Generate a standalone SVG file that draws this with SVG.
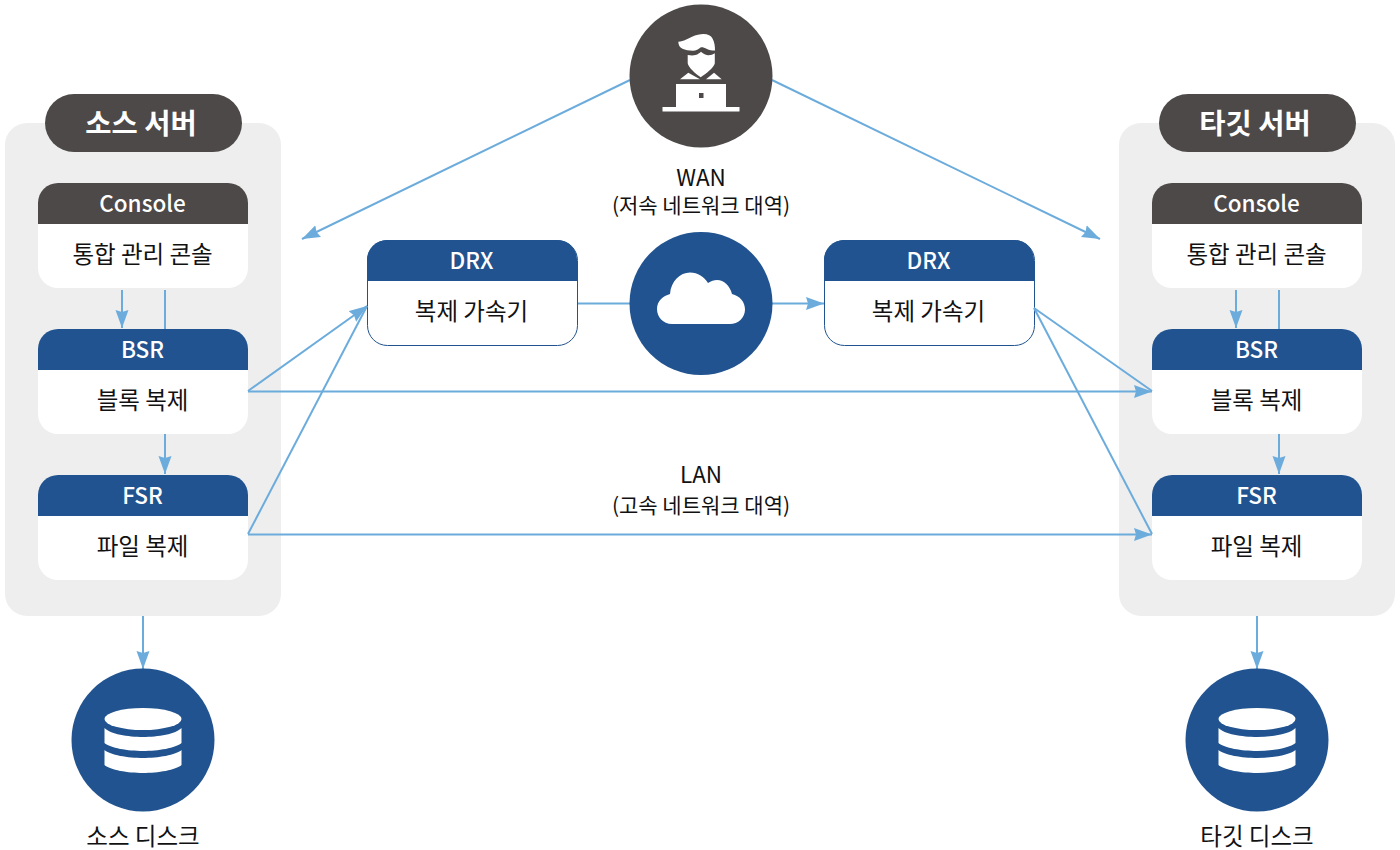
<svg xmlns="http://www.w3.org/2000/svg" xmlns:xlink="http://www.w3.org/1999/xlink" width="1400" height="850" viewBox="0 0 1400 850">
<style>
text{font-family:"Noto Sans CJK KR","Noto Sans",sans-serif;text-anchor:middle}
.panel{fill:#eeeeee}
.pill{fill:#4d4948}
.pilltx{font-size:28.5px;font-weight:700;fill:#fff}
.card{fill:#fff}
.hd{font-size:22.500px;font-weight:500;fill:#fff}
.bd{font-size:23.500px;fill:#111}
.sm{font-size:21px;fill:#111}
.md{font-size:22.500px;fill:#111}
.blue{fill:#20538f}
.dark{fill:#4d4948}
.wh{fill:#fff}
.ln{fill:none;stroke:#6cacdc;stroke-width:2}
.arr{marker-end:url(#ah)}
</style>
<defs>
<marker id="ah" markerUnits="userSpaceOnUse" markerWidth="18" markerHeight="14" refX="18" refY="7" orient="auto"><path d="M0 0.500L18 7L0 13.500L2 7Z" fill="#6cacdc"/></marker>
<path id="hdr" d="M0 41V20A20 20 0 0 1 20 0H190A20 20 0 0 1 210 20V41Z"/>
<g id="db"><ellipse cx="0" cy="-21" rx="38.5" ry="11" class="wh"/><path class="wh" d="M-38.5 -12C-33 -6 -15 -3 0 -3C15 -3 33 -6 38.5 -12V3C33 8 15 11 0 11C-15 11 -33 8 -38.5 3Z"/><path class="wh" d="M-38.5 10C-33 15 -15 18 0 18C15 18 33 15 38.5 10V25C33 30 15 33 0 33C-15 33 -33 30 -38.5 25Z"/></g>
</defs>

<g id="panel-source"><rect class="panel" x="5" y="123" width="276" height="493" rx="22"/></g>
<g id="panel-target"><rect class="panel" x="1119" y="123" width="276" height="493" rx="22"/></g>

<g id="source-title"><rect class="pill" x="45" y="94" width="197" height="58" rx="29"/><text class="pilltx" x="141" y="133.500">소스 서버</text></g>
<g id="target-title"><rect class="pill" x="1159" y="94" width="197" height="58" rx="29"/><text class="pilltx" x="1255" y="133.500">타깃 서버</text></g>

<g id="src-console"><rect class="card" x="38" y="183" width="210" height="105" rx="20"/><use href="#hdr" x="38" y="183" class="dark"/><text class="hd" x="142.500" y="212">Console</text><text class="bd" x="142.500" y="263">통합 관리 콘솔</text></g>
<g id="src-bsr"><rect class="card" x="38" y="329" width="210" height="105" rx="20"/><use href="#hdr" x="38" y="329" class="blue"/><text class="hd" x="142.500" y="358">BSR</text><text class="bd" x="142.500" y="409">블록 복제</text></g>
<g id="src-fsr"><rect class="card" x="38" y="475" width="210" height="105" rx="20"/><use href="#hdr" x="38" y="475" class="blue"/><text class="hd" x="142.500" y="504">FSR</text><text class="bd" x="142.500" y="555">파일 복제</text></g>

<g id="tgt-console"><rect class="card" x="1152" y="183" width="210" height="105" rx="20"/><use href="#hdr" x="1152" y="183" class="dark"/><text class="hd" x="1256.500" y="212">Console</text><text class="bd" x="1256.500" y="263">통합 관리 콘솔</text></g>
<g id="tgt-bsr"><rect class="card" x="1152" y="329" width="210" height="105" rx="20"/><use href="#hdr" x="1152" y="329" class="blue"/><text class="hd" x="1256.500" y="358">BSR</text><text class="bd" x="1256.500" y="409">블록 복제</text></g>
<g id="tgt-fsr"><rect class="card" x="1152" y="475" width="210" height="105" rx="20"/><use href="#hdr" x="1152" y="475" class="blue"/><text class="hd" x="1256.500" y="504">FSR</text><text class="bd" x="1256.500" y="555">파일 복제</text></g>

<g id="drx-left"><rect x="367.500" y="240.500" width="210" height="105" rx="20" fill="#fff" stroke="#20538f"/><use href="#hdr" x="367" y="240" class="blue"/><text class="hd" x="471.500" y="269">DRX</text><text class="bd" x="471.500" y="320">복제 가속기</text></g>
<g id="drx-right"><rect x="824.500" y="240.500" width="210" height="105" rx="20" fill="#fff" stroke="#20538f"/><use href="#hdr" x="824" y="240" class="blue"/><text class="hd" x="928.500" y="269">DRX</text><text class="bd" x="928.500" y="320">복제 가속기</text></g>

<g id="connectors">
<path class="ln arr" d="M630 80L302 239"/>
<path class="ln arr" d="M772 80L1100 239"/>
<path class="ln arr" d="M122 290V328"/>
<path class="ln" d="M165 290V329"/>
<path class="ln arr" d="M165 434V474"/>
<path class="ln arr" d="M143 616V669"/>
<path class="ln arr" d="M1236 290V328"/>
<path class="ln" d="M1279 290V329"/>
<path class="ln arr" d="M1279 434V474"/>
<path class="ln arr" d="M1257 616V669"/>
<path class="ln arr" d="M248 391L367 306"/>
<path class="ln" d="M248 534L367 306"/>
<path class="ln arr" d="M248 391.500H1152"/>
<path class="ln arr" d="M248 534.500H1152"/>
<path class="ln" d="M578 303.500H630"/>
<path class="ln arr" d="M772 303.500H824"/>
<path class="ln" d="M1034 308L1152 391"/>
<path class="ln" d="M1034 308L1152 534"/>
</g>

<g id="operator"><circle class="dark" cx="701" cy="76" r="71.500"/>
<path class="wh" d="M678.300 41.700C684 41.500 688 38.500 692 36.800C696 35 700 34 703.500 34C708 34 711 35.500 712.500 38.500C714.500 42 715 46 715 50.500C712 50.500 709 50 707 49C704 47.500 702 47 700.500 47.500C698.500 49 696 50.800 693 50.800C689 50.800 685 50 682.500 48.800C679.500 47.300 678.500 45 678.300 41.700Z"/>
<path class="wh" d="M687.700 55C691 55.500 693.500 55.500 695.500 55C698 54.300 699.500 52.800 701 51.700C703 53.500 705 55 708 55.200C710.500 55.300 713 54.500 714.800 53.300V63.300C714 67.500 706 74 700.700 77.300C695.500 74 688.500 67.500 687.700 63.300Z"/>
<path class="wh" d="M680 79.300L688.300 72.700L700 79.300ZM706 79.300L714 72.700L721.700 79.300Z"/>
<rect class="wh" x="676" y="84" width="50" height="23"/><rect class="wh" x="662.500" y="107" width="77" height="4.500"/><rect class="dark" x="699" y="93" width="4.500" height="5"/></g>

<g id="wan"><circle class="blue" cx="701" cy="303.500" r="71.500"/>
<path class="wh" d="M672 324C663 324 657 317 657 309C657 301 663 296 670 294C671 281 680 272.500 690 272.500C698 272.500 704 277 708 283C711 281 714 280 717 280C724 280 730 286 732 294C740 296 745 302 745 309.500C745 318 738 324 730 324Z"/></g>

<g id="source-disk"><circle class="blue" cx="143" cy="740" r="71.500"/><use href="#db" x="143" y="740"/><text class="bd" x="143" y="845">소스 디스크</text></g>
<g id="target-disk"><circle class="blue" cx="1257" cy="740" r="71.500"/><use href="#db" x="1257" y="740"/><text class="bd" x="1257" y="845">타깃 디스크</text></g>

<g id="wan-label"><text class="md" x="701" y="186">WAN</text><text class="sm" x="701" y="213">(저속 네트워크 대역)</text></g>
<g id="lan-label"><text class="md" x="701" y="483">LAN</text><text class="sm" x="701" y="513">(고속 네트워크 대역)</text></g>
</svg>
